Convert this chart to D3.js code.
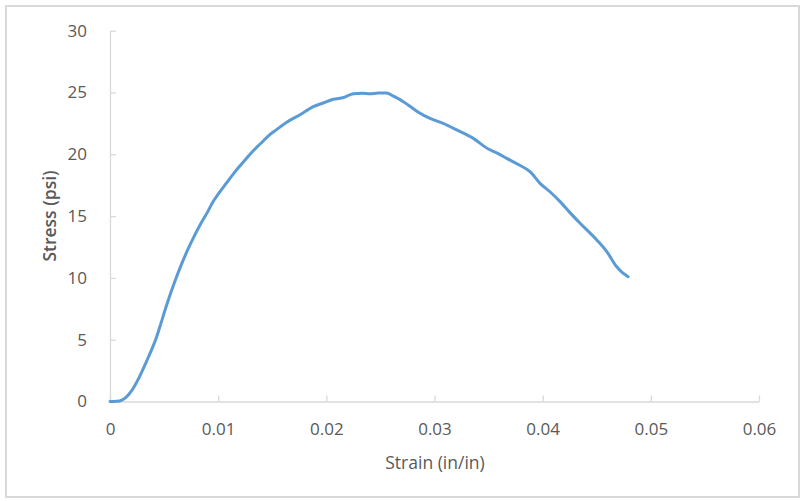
<!DOCTYPE html>
<html>
<head>
<meta charset="utf-8">
<script src="https://cdn.jsdelivr.net/npm/d3@7"></script>
<style>
  html, body { margin: 0; padding: 0; background: #ffffff; }
  svg { display: block; }
</style>
</head>
<body>
<svg id="chart" width="804" height="501"></svg>
<script>
const strain = [0, 0.0006, 0.0011, 0.0015, 0.0019, 0.0023, 0.0027, 0.0031, 0.0035, 0.0039,
  0.0043, 0.0047, 0.0052, 0.0057, 0.0062, 0.0067, 0.0072, 0.0078, 0.0084, 0.0090,
  0.00955, 0.0101, 0.0107, 0.0113, 0.0119, 0.01255, 0.0132, 0.0139, 0.01465, 0.0154,
  0.01634, 0.01757, 0.0188, 0.0197, 0.02065, 0.0216, 0.0225, 0.0233, 0.02404, 0.0248,
  0.02558, 0.0262, 0.02712, 0.0278, 0.02851, 0.02959, 0.0308, 0.03206, 0.03359, 0.03498,
  0.0358, 0.03668, 0.0378, 0.03883, 0.03976, 0.0407, 0.04161, 0.0425, 0.04346, 0.045,
  0.04593, 0.04685, 0.0474, 0.0479];
const stress = [0, 0.02, 0.12, 0.35, 0.75, 1.3, 1.95, 2.7, 3.5, 4.3,
  5.2, 6.3, 7.7, 9.0, 10.2, 11.3, 12.3, 13.4, 14.4, 15.3,
  16.2, 16.9, 17.6, 18.3, 18.95, 19.6, 20.25, 20.85, 21.5, 22.0,
  22.6, 23.2, 23.85, 24.15, 24.45, 24.6, 24.9, 24.93, 24.9, 24.95,
  24.95, 24.7, 24.26, 23.85, 23.4, 22.9, 22.5, 21.97, 21.29, 20.43,
  20.1, 19.67, 19.15, 18.6, 17.65, 16.95, 16.17, 15.3, 14.42, 13.07,
  12.12, 10.9, 10.4, 10.1];
const xTicks = [0, 0.01, 0.02, 0.03, 0.04, 0.05, 0.06];
const xTickLabels = ["0", "0.01", "0.02", "0.03", "0.04", "0.05", "0.06"];
const yTicks = [0, 5, 10, 15, 20, 25, 30];
const xTitle = "Strain (in/in)";
const yTitle = "Stress (psi)";

const svg = d3.select("#chart");
const font = "Open Sans, sans-serif";

// outer chart border
svg.append("rect")
  .attr("x", 6).attr("y", 6).attr("width", 793).attr("height", 491)
  .attr("fill", "#ffffff").attr("stroke", "#d9d9d9").attr("stroke-width", 2);

const x = d3.scaleLinear().domain([0, 0.06]).range([110, 759]);
const y = d3.scaleLinear().domain([0, 30]).range([401.5, 30.7]);

// x axis
const xAxis = d3.axisBottom(x).tickValues(xTicks)
  .tickFormat((d, i) => xTickLabels[i]).tickSizeInner(-6).tickSizeOuter(0).tickPadding(25);
const gx = svg.append("g").attr("transform", `translate(0,${y(0)})`).call(xAxis);
gx.select(".domain").attr("stroke", "#d9d9d9").attr("stroke-width", 1.3);
gx.selectAll(".tick line").attr("stroke", "#d9d9d9").attr("stroke-width", 1.3);
gx.selectAll(".tick text").attr("fill", "#595959").attr("font-size", 17)
  .attr("font-family", font).attr("dy", "0.5em");

// y axis
const yAxis = d3.axisLeft(y).tickValues(yTicks)
  .tickSizeInner(-6).tickSizeOuter(0).tickPadding(23);
const gy = svg.append("g").attr("transform", `translate(${x(0)},0)`).call(yAxis);
gy.select(".domain").attr("stroke", "#d9d9d9").attr("stroke-width", 1.3);
gy.selectAll(".tick line").attr("stroke", "#d9d9d9").attr("stroke-width", 1.3);
gy.selectAll(".tick text").attr("fill", "#595959").attr("font-size", 17)
  .attr("font-family", font);

// line
const pts = strain.map((s, i) => [s, stress[i]]);
const line = d3.line().x(d => x(d[0])).y(d => y(d[1])).curve(d3.curveMonotoneX);
svg.append("path").datum(pts)
  .attr("d", line)
  .attr("fill", "none")
  .attr("stroke", "#5b9bd5")
  .attr("stroke-width", 3)
  .attr("stroke-linejoin", "round")
  .attr("stroke-linecap", "round");

// axis titles
svg.append("text").attr("x", 435).attr("y", 469)
  .attr("text-anchor", "middle").attr("fill", "#595959")
  .attr("font-size", 17.5).attr("font-family", font).text(xTitle);

svg.append("text")
  .attr("transform", "translate(56,216) rotate(-90)")
  .attr("text-anchor", "middle").attr("fill", "#595959")
  .attr("font-size", 17.5).attr("font-weight", 600).attr("font-family", font).text(yTitle);
</script>
</body>
</html>
